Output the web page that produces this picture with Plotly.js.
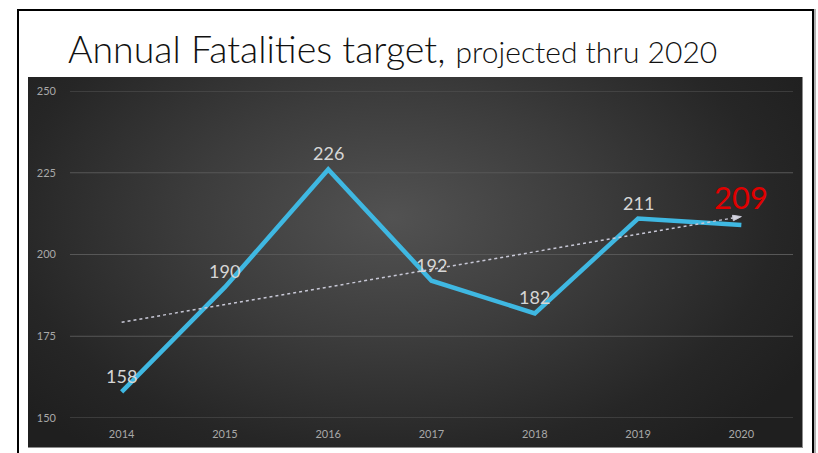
<!DOCTYPE html>
<html>
<head>
<meta charset="utf-8">
<script src="https://cdn.plot.ly/plotly-3.0.1.min.js"></script>
<style>
  html, body { margin:0; padding:0; background:#fff; }
  #wrap { position:relative; width:818px; height:453px; overflow:hidden; background:#fff; }
  #frame { position:absolute; left:17px; top:9px; width:793px; height:470px;
           border:2px solid #000; box-shadow:2px 0 0 #b0b0b0; }
  #panel { position:absolute; left:28px; top:77px; width:774px; height:370px;
           background:radial-gradient(ellipse 62% 80% at 47% 38%, #525252 0%, #3c3c3c 42%, #262626 80%, #1f1f1f 100%);
           border-right:1px solid #8c8c8c; border-bottom:1px solid #8c8c8c; }
  #chart { position:absolute; left:0; top:0; width:818px; height:453px; }
</style>
</head>
<body>
<div id="wrap">
  <div id="frame"></div>
  <div id="panel"></div>
  <div id="chart"></div>
</div>
<script>
// ---- data ----
const years = ['2014','2015','2016','2017','2018','2019','2020'];
const fatalities = [158, 190, 226, 192, 182, 211, 209];
const trendYears = ['2014','2020'];
const trendValues = [179.3, 211.6];
const yTicks = [150, 175, 200, 225, 250];
const titleMain = 'Annual Fatalities target,';
const titleSub = 'projected thru 2020';

const lastIdx = fatalities.length - 1;

const traces = [
  {
    x: years, y: fatalities, type: 'scatter', mode: 'lines',
    line: { color: '#3fb8e2', width: 4.5 },
    hoverinfo: 'skip', showlegend: false
  },
  {
    x: trendYears, y: trendValues, type: 'scatter', mode: 'lines+markers',
    line: { color: '#c8c8d6', width: 1.5, dash: 'dot' },
    marker: { symbol: ['circle', 'arrow'], angleref: 'previous', size: [1, 9],
              opacity: [0, 1], color: '#d4d4de' },
    hoverinfo: 'skip', showlegend: false
  }
];

const annotations = years.map((yr, i) => {
  const hi = i === lastIdx;
  return {
    x: i, y: fatalities[i], xref: 'x', yref: 'y',
    text: String(fatalities[i]), showarrow: false,
    xanchor: 'center', yanchor: 'bottom',
    yshift: hi ? 7 : 3,
    font: { family: 'Lato, "Open Sans", sans-serif', size: hi ? 31 : 18,
            color: hi ? '#e00000' : '#d6d6d6' }
  };
});

annotations.push({
  xref: 'paper', yref: 'paper', x: -0.0055, y: 1.055,
  xanchor: 'left', yanchor: 'bottom', showarrow: false, align: 'left',
  text: titleMain + ' <span style="font-size:30px">' + titleSub + '</span>',
  font: { family: 'Lato, "Open Sans", sans-serif', size: 37.5, color: '#111', weight: 300 }
});

const gridShapes = yTicks.map(v => ({
  type: 'line', xref: 'paper', yref: 'y', x0: 0, x1: 1, y0: v, y1: v,
  line: { color: '#575757', width: 1 }, layer: 'below'
}));

const layout = {
  width: 818, height: 453,
  margin: { l: 70, r: 25, t: 91, b: 35 },
  paper_bgcolor: 'rgba(0,0,0,0)',
  plot_bgcolor: 'rgba(0,0,0,0)',
  font: { family: 'Lato, "Open Sans", sans-serif', color: '#a6a6a6' },
  xaxis: {
    type: 'category', categoryorder: 'array', categoryarray: years,
    range: [-0.5, 6.5], showgrid: false, zeroline: false, showline: false,
    ticks: '', tickfont: { size: 11, color: '#a8a8a8' }, ticklabelstandoff: 8,
    fixedrange: true
  },
  yaxis: {
    range: [150, 250], tickvals: yTicks, ticktext: yTicks.map(String),
    showgrid: false, zeroline: false, showline: false, ticks: '',
    tickfont: { size: 11, color: '#a8a8a8' }, ticklabelstandoff: 13,
    fixedrange: true
  },
  shapes: gridShapes,
  annotations: annotations,
  showlegend: false
};

Plotly.newPlot('chart', traces, layout, { displayModeBar: false, staticPlot: true });
</script>
</body>
</html>
